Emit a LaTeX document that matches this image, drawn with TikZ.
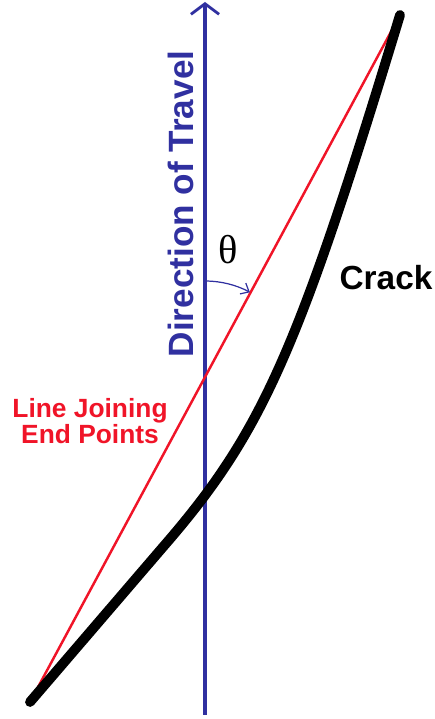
\documentclass[tikz,border=0pt]{standalone}
\usepackage{fontspec}
\setmainfont{Liberation Sans}
\newfontfamily\thetafont{Liberation Serif}
\usetikzlibrary{arrows.meta}
\definecolor{travelblue}{RGB}{48,48,160}
\definecolor{lineRed}{RGB}{240,20,40}
\begin{document}
\begin{tikzpicture}[
    x=0.02cm, y=0.02cm,
    axis/.style={draw=travelblue, line width=2pt, -{Straight Barb[length=6pt, width=16pt, line width=1.6pt]}},
    joinline/.style={draw=lineRed, line width=1.4pt},
    crack/.style={draw=black, line width=5.6pt, line cap=round, line join=round},
    angle arrow/.style={draw=travelblue, line width=0.7pt, -{Straight Barb[length=4pt, width=7pt]}},
    label/.style={inner sep=0pt, font=\bfseries}
]
    \useasboundingbox (0,0) rectangle (435,719);

    % End points
    \coordinate (start) at (30,17);
    \coordinate (end) at (400,704);
    \coordinate (bend) at (163,172);
    \coordinate (axis bottom) at (205,4);
    \coordinate (axis top) at (205,717);

    % Direction of travel
    \draw[axis] (axis bottom) -- (axis top);
    \node[label, text=travelblue, rotate=90, font=\bfseries\fontsize{20}{24}\selectfont] (travel) at (181,515) {Direction of Travel};

    % Line joining end points
    \draw[joinline] (start) -- (end);
    \node[inner sep=0pt, text=lineRed, align=center, font=\bfseries\fontsize{15}{13.5}\selectfont] (joining) at (90,298) {Line Joining\\End Points};

    % Crack
    \draw[crack] (start) -- (bend) .. controls (261.9,285.8) and (297.5,365.7) .. (end);
    \node[label, font=\bfseries\fontsize{19}{23}\selectfont] (crack label) at (386,441) {Crack};

    % Angle theta
    \coordinate (theta start) at (205,438);
    \draw[angle arrow] (theta start) arc[start angle=90, end angle=61.8, radius=95];
    \node[inner sep=0pt, font=\thetafont\fontsize{23}{27}\selectfont] (theta) at (228,469) {θ};
\end{tikzpicture}
\end{document}
